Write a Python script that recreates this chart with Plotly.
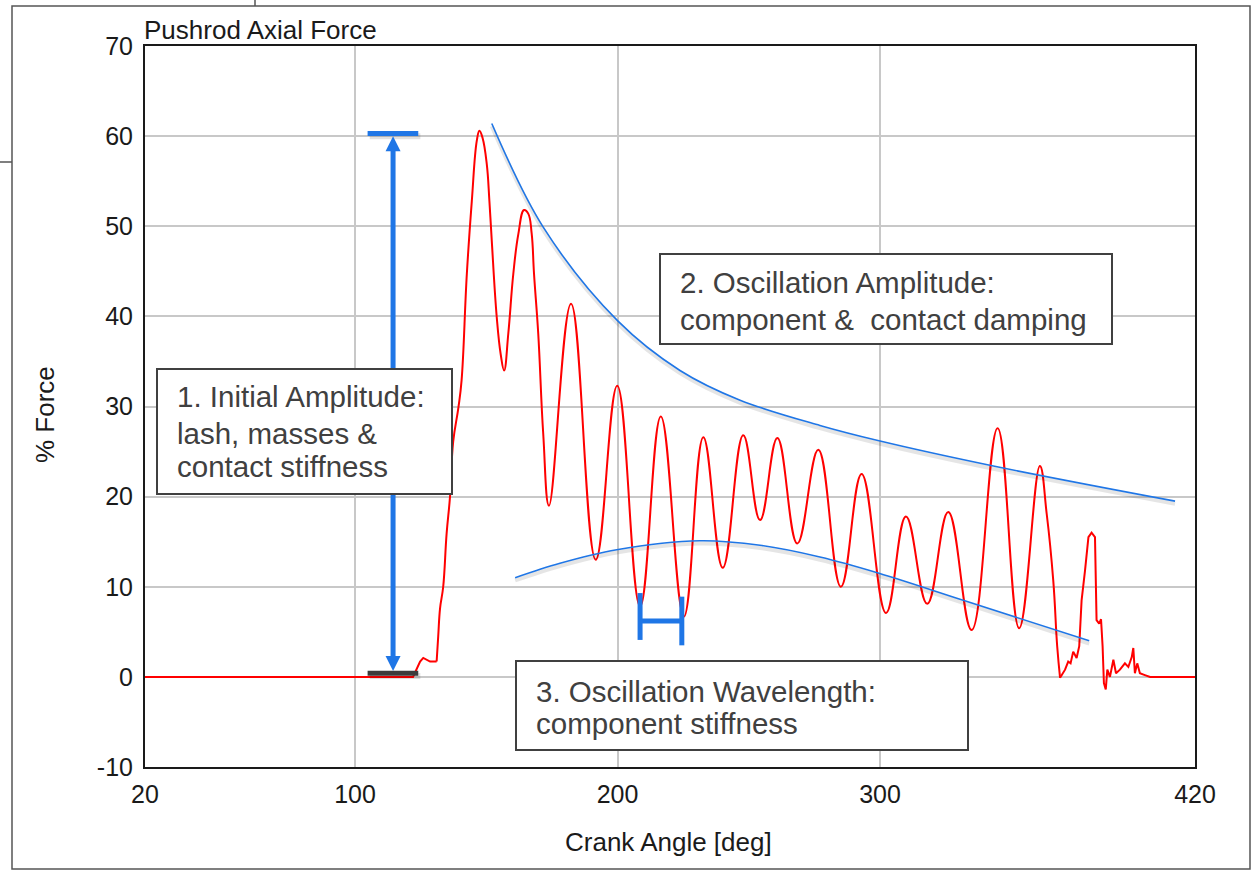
import plotly.graph_objects as go

# ---------------- data ----------------
# Pushrod axial force trace (crank angle in deg, force in %)
pre_angle = [20, 122.1, 124.8, 126.0, 128.6, 131.1]
pre_force = [0, 0, 1.7, 2.1, 1.7, 1.7]

main_angle = [131.1, 131.7, 132.4, 133.6, 134.9, 136.2, 137.4, 139.4, 140.6, 142.6, 144.5,
              146.4, 147.4, 148.6, 150.2, 151.2, 152.1, 154.0, 155.5, 156.8, 158.4, 160.3,
              162.2, 164.4, 166.0, 167.3, 168.2, 169.8, 171.7, 173.9, 182.3, 191.7, 199.9,
              208.6, 216.5, 225.3, 232.7, 240.1, 247.9, 254.3, 260.9, 268.5, 276.5, 285.1,
              293.0, 302.3, 309.9, 318.0, 326.0, 334.9, 344.8, 353.0, 360.9, 363.5, 366.0,
              367.5, 368.6]
main_force = [1.7, 4.5, 7.6, 10.0, 15.9, 20.0, 26.1, 29.9, 32.9, 44.7, 52.8,
              59.5, 60.6, 59.8, 56.9, 52.8, 48.4, 39.9, 35.8, 34.0, 38.1, 44.7,
              49.1, 51.8, 51.4, 49.2, 44.7, 38.1, 27.0, 19.0, 41.4, 13.0, 32.3,
              7.8, 28.9, 6.7, 26.6, 12.1, 26.8, 17.4, 26.5, 14.8, 25.2, 10.0,
              22.5, 7.1, 17.8, 8.1, 18.3, 5.2, 27.6, 5.4, 23.4, 18.1, 10.7,
              3.4, -0.1]

tail_angle = [368.6, 370.5, 371.7, 372.6, 373.6, 374.9, 375.9, 376.8, 378.1, 379.4, 380.6,
              381.9, 382.5, 383.5, 384.2, 384.8, 385.3, 386.0, 386.6, 387.6, 388.9, 389.9,
              391.4, 393.3, 394.6, 395.9, 396.5, 397.1, 398.0, 399.0, 400.9, 402.9, 420]
tail_force = [-0.1, 0.8, 1.7, 1.5, 2.8, 2.1, 3.4, 8.5, 11.8, 15.5, 16.0,
              15.5, 6.3, 5.9, 6.4, 3.4, -0.7, -1.4, 0.8, 0.0, 1.9, 0.4,
              0.8, 1.5, 1.1, 2.2, 3.2, 0.4, 1.5, 0.4, 0.2, 0.0, 0.0]

# envelope sketch lines
env_hi_angle = [152.1, 171.7, 200.1, 223.8, 246.7, 277.1, 299.6, 343.2, 412.4]
env_hi_force = [61.4, 49.9, 39.5, 34.0, 30.7, 27.9, 26.2, 23.4, 19.5]
env_lo_angle = [161.0, 178.1, 199.7, 231.4, 254.3, 277.1, 299.6, 331.7, 379.7]
env_lo_force = [11.0, 12.6, 14.1, 15.1, 14.6, 13.3, 11.5, 8.5, 4.0]

# initial amplitude marker
amp_angle = 114.5
amp_bottom = 0.4
amp_top = 60.3
amp_cap = [104.8, 124.1]

# wavelength marker
wl_angle = [208.6, 224.5]
wl_low = [4.1, 3.5]
wl_high = [9.3, 8.9]
wl_mid = 6.2

x_ticks = [20, 100, 200, 300, 420]
y_ticks = [-10, 0, 10, 20, 30, 40, 50, 60, 70]

box_texts = [
    ["1. Initial Amplitude:", "lash, masses &", "contact stiffness"],
    ["2. Oscillation Amplitude:", "component &  contact damping"],
    ["3. Oscillation Wavelength:", "component stiffness"],
]

# ---------------- layout helpers ----------------
W, H = 1258, 872
L, R, T, B = 145, 1195, 46, 767


def pxx(x):
    return (x - L) / (R - L)


def pxy(y):
    return (B - y) / (B - T)


BLUE = "#1f76e6"
RED = "#ff0000"
TXT = "#404040"
FONT = "Liberation Sans, Arial, sans-serif"
AX = "#1a1a1a"

fig = go.Figure()

fig.add_trace(go.Scatter(x=pre_angle, y=pre_force, mode="lines",
                         line=dict(color=RED, width=2), hoverinfo="skip", showlegend=False))
fig.add_trace(go.Scatter(x=main_angle, y=main_force, mode="lines",
                         line=dict(color=RED, width=2, shape="spline", smoothing=1.2),
                         hoverinfo="skip", showlegend=False))
fig.add_trace(go.Scatter(x=tail_angle, y=tail_force, mode="lines",
                         line=dict(color=RED, width=2), hoverinfo="skip", showlegend=False))

for ex, ey in [(env_hi_angle, env_hi_force), (env_lo_angle, env_lo_force)]:
    fig.add_trace(go.Scatter(x=ex, y=[v - 0.3 for v in ey], mode="lines",
                             line=dict(color="rgba(0,0,0,0.10)", width=4, shape="spline"),
                             hoverinfo="skip", showlegend=False))
    fig.add_trace(go.Scatter(x=ex, y=ey, mode="lines",
                             line=dict(color=BLUE, width=1.6, shape="spline"),
                             hoverinfo="skip", showlegend=False))

shapes = []
deg_per_px = 400 / (R - L)
unit_per_px = 80 / (B - T)
head_h = 15 * unit_per_px
head_hw = 7.5 * deg_per_px
shapes.append(dict(type="line", xref="x", yref="y", x0=amp_angle, x1=amp_angle,
                   y0=amp_bottom + head_h, y1=amp_top - head_h, line=dict(color=BLUE, width=5),
                   layer="above"))
for yy, col in [(amp_top, BLUE), (amp_bottom, "#3c3c3c")]:
    shapes.append(dict(type="line", xref="x", yref="y", x0=amp_cap[0] + 0.8, x1=amp_cap[1] + 0.8,
                       y0=yy - 0.3, y1=yy - 0.3, line=dict(color="rgba(0,0,0,0.12)", width=6),
                       layer="above"))
    shapes.append(dict(type="line", xref="x", yref="y", x0=amp_cap[0], x1=amp_cap[1],
                       y0=yy, y1=yy, line=dict(color=col, width=5), layer="above"))
top_tip = amp_top - 0.3
bot_tip = amp_bottom + 0.25
shapes.append(dict(type="path", xref="x", yref="y", layer="above", line=dict(width=0),
                   fillcolor=BLUE,
                   path=f"M {amp_angle} {top_tip} L {amp_angle - head_hw} {top_tip - head_h} "
                        f"L {amp_angle + head_hw} {top_tip - head_h} Z"))
shapes.append(dict(type="path", xref="x", yref="y", layer="above", line=dict(width=0),
                   fillcolor=BLUE,
                   path=f"M {amp_angle} {bot_tip} L {amp_angle - head_hw} {bot_tip + head_h} "
                        f"L {amp_angle + head_hw} {bot_tip + head_h} Z"))

for xa, lo, hi in zip(wl_angle, wl_low, wl_high):
    shapes.append(dict(type="line", xref="x", yref="y", x0=xa, x1=xa, y0=lo, y1=hi,
                       line=dict(color=BLUE, width=5), layer="above"))
shapes.append(dict(type="line", xref="x", yref="y", x0=wl_angle[0], x1=wl_angle[1],
                   y0=wl_mid, y1=wl_mid, line=dict(color=BLUE, width=5), layer="above"))

boxes = [(157, 369, 452, 494), (660, 254, 1112, 344), (516, 661, 968, 750)]
for (x0, y0, x1, y1) in boxes:
    shapes.append(dict(type="rect", xref="paper", yref="paper", x0=pxx(x0), x1=pxx(x1),
                       y0=pxy(y1), y1=pxy(y0), fillcolor="white",
                       line=dict(color=TXT, width=2), layer="above"))

shapes.append(dict(type="rect", xref="paper", yref="paper", x0=pxx(12), x1=pxx(1250),
                   y0=pxy(869), y1=pxy(6), line=dict(color="#555555", width=1.5),
                   fillcolor="rgba(0,0,0,0)", layer="below"))
shapes.append(dict(type="line", xref="paper", yref="paper", x0=pxx(255), x1=pxx(255),
                   y0=pxy(6), y1=pxy(-2), line=dict(color="#555555", width=1.5)))
shapes.append(dict(type="line", xref="paper", yref="paper", x0=pxx(-2), x1=pxx(12),
                   y0=pxy(162), y1=pxy(162), line=dict(color="#555555", width=1.5)))

annotations = []
line_pos = [
    (177, [396.7, 433.0, 466.5]),
    (680, [282.5, 319.0]),
    (536, [691.5, 723.0]),
]
for texts, (lx, ys) in zip(box_texts, line_pos):
    for t, yy in zip(texts, ys):
        annotations.append(dict(text=t, xref="paper", yref="paper", x=pxx(lx), y=pxy(yy),
                                xanchor="left", yanchor="middle", showarrow=False,
                                font=dict(family=FONT, size=29.5, color=TXT), xshift=-2))

annotations.append(dict(text="Pushrod Axial Force", xref="paper", yref="paper", x=0,
                        y=pxy(30), xanchor="left", yanchor="middle", showarrow=False,
                        font=dict(family=FONT, size=26, color=AX), xshift=-3))
annotations.append(dict(text="Crank Angle [deg]", xref="paper", yref="paper", x=pxx(668),
                        y=pxy(842), xanchor="center", yanchor="middle", showarrow=False,
                        font=dict(family=FONT, size=26, color=AX)))
annotations.append(dict(text="% Force", xref="paper", yref="paper", x=pxx(45),
                        y=pxy(415), xanchor="center", yanchor="middle", showarrow=False,
                        textangle=-90, font=dict(family=FONT, size=26, color=AX)))

fig.update_layout(
    width=W, height=H,
    margin=dict(l=L, r=W - R, t=T, b=H - B),
    paper_bgcolor="white", plot_bgcolor="white",
    shapes=shapes, annotations=annotations,
    showlegend=False,
)
fig.update_xaxes(range=[20, 420], tickvals=x_ticks, ticktext=[str(v) for v in x_ticks],
                 showgrid=True, gridcolor="#c8c8c8", gridwidth=1.5, zeroline=False,
                 showline=True, mirror=True, linecolor=AX, linewidth=2,
                 ticks="", ticklabelstandoff=4,
                 tickfont=dict(family=FONT, size=25, color=AX))
fig.update_yaxes(range=[-10, 70], tickvals=y_ticks, ticktext=[str(v) for v in y_ticks],
                 showgrid=True, gridcolor="#c8c8c8", gridwidth=1.5, zeroline=False,
                 showline=True, mirror=True, linecolor=AX, linewidth=2,
                 ticks="", ticklabelstandoff=5,
                 tickfont=dict(family=FONT, size=25, color=AX))

fig.write_html("out.html")
